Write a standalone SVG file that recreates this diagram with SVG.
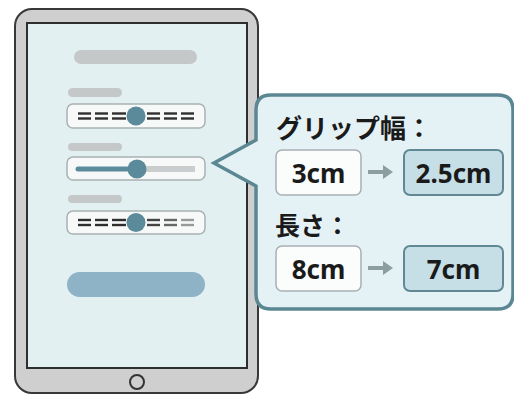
<svg xmlns="http://www.w3.org/2000/svg" width="514" height="396" viewBox="0 0 514 396">
<defs>
<style>
.bar{fill:#c5c8c9}
.sbox{fill:#f7f9f9;stroke:#a9b1b3;stroke-width:1.5}
.dash{stroke:#2e2e2e;stroke-width:2.4}
.thumb{fill:#5b8a9b}
.jp{font-family:"Noto Sans CJK JP","Noto Sans",sans-serif;font-weight:bold;fill:#1a1a1a}
.num{font-family:"Noto Sans","Noto Sans CJK JP",sans-serif;font-weight:bold;fill:#1a1a1a;font-size:26px;text-anchor:middle}
.vbox{fill:#fbfcfc;stroke:#a8b0b2;stroke-width:1.5}
.nbox{fill:#c6dfe7;stroke:#5f8894;stroke-width:2}
.arr{stroke:#8d9ea3;stroke-width:4;fill:none}
</style>
<g id="dashset">
<g class="dash">
<line x1="78" y1="-2.5" x2="91" y2="-2.5"/><line x1="78" y1="2.5" x2="91" y2="2.5"/>
<line x1="95" y1="-2.5" x2="108" y2="-2.5"/><line x1="95" y1="2.5" x2="108" y2="2.5"/>
<line x1="112" y1="-2.5" x2="126" y2="-2.5"/><line x1="112" y1="2.5" x2="126" y2="2.5"/>
</g>
</g>
</defs>

<g id="tablet">
<rect x="15" y="9" width="243" height="384" rx="17" fill="#cfcfcf" stroke="#383838" stroke-width="2"/>
<rect x="27" y="23" width="220" height="345" fill="#e3f0f2" stroke="#2e2e2e" stroke-width="2"/>
<circle cx="137" cy="382" r="7" fill="none" stroke="#333" stroke-width="2"/>
</g>

<g id="header">
<rect class="bar" x="74" y="50" width="123" height="14" rx="7"/>
</g>

<g id="slider1">
<rect class="bar" x="68" y="88" width="54" height="9" rx="4.5"/>
<rect class="sbox" x="67" y="104" width="138" height="24" rx="6"/>
<use href="#dashset" y="116"/>
<g class="dash">
<line x1="147" y1="113.5" x2="160" y2="113.5"/><line x1="147" y1="118.5" x2="160" y2="118.5"/>
<line x1="164" y1="113.5" x2="177" y2="113.5"/><line x1="164" y1="118.5" x2="177" y2="118.5"/>
<line x1="181" y1="113.5" x2="194" y2="113.5"/><line x1="181" y1="118.5" x2="194" y2="118.5"/>
</g>
<circle class="thumb" cx="136" cy="116" r="9.5"/>
</g>

<g id="slider2">
<rect class="bar" x="68" y="143" width="54" height="8" rx="4"/>
<rect class="sbox" x="67" y="157" width="138" height="23" rx="6"/>
<line x1="78" y1="169" x2="136" y2="169" stroke="#5b8a9b" stroke-width="5" stroke-linecap="round"/>
<line x1="136" y1="169" x2="195" y2="169" stroke="#c9cdce" stroke-width="6"/>
<circle class="thumb" cx="137" cy="169" r="9.5"/>
</g>

<g id="slider3">
<rect class="bar" x="68" y="195" width="54" height="8" rx="4"/>
<rect class="sbox" x="67" y="211" width="138" height="23" rx="6"/>
<use href="#dashset" y="222.5"/>
<g stroke-width="2.4">
<line x1="147" y1="220" x2="160" y2="220" stroke="#444"/><line x1="147" y1="225" x2="160" y2="225" stroke="#444"/>
<line x1="164" y1="220" x2="177" y2="220" stroke="#666"/><line x1="164" y1="225" x2="177" y2="225" stroke="#666"/>
<line x1="181" y1="220" x2="194" y2="220" stroke="#999"/><line x1="181" y1="225" x2="194" y2="225" stroke="#999"/>
</g>
<circle class="thumb" cx="136" cy="222.5" r="9.5"/>
</g>

<g id="button">
<rect x="67" y="272" width="138" height="25" rx="12.5" fill="#8fb3c6"/>
</g>

<g id="callout">
<path d="M 271 95 H 498 Q 513 95 513 110 V 294 Q 513 309 498 309 H 271 Q 256 309 256 294 V 186 L 214 163 L 256 140 V 110 Q 256 95 271 95 Z" fill="#e5f2f5" stroke="#5b8793" stroke-width="3.5" stroke-linejoin="miter"/>
<text class="jp" x="276" y="138" font-size="26">グリップ幅：</text>
<text class="jp" x="275" y="235" font-size="25">長さ：</text>
</g>

<g id="v3cm">
<rect class="vbox" x="276" y="150" width="85" height="45" rx="6"/>
<text class="num" x="318.5" y="183">3cm</text>
</g>
<g id="v25cm">
<rect class="nbox" x="404" y="150" width="99" height="45" rx="6"/>
<text class="num" x="453.5" y="183">2.5cm</text>
</g>
<g id="v8cm">
<rect class="vbox" x="276" y="246" width="85" height="45" rx="6"/>
<text class="num" x="318.5" y="279">8cm</text>
</g>
<g id="v7cm">
<rect class="nbox" x="404" y="246" width="99" height="45" rx="6"/>
<text class="num" x="453.5" y="279">7cm</text>
</g>

<g id="connectors">
<path class="arr" d="M 368 172 H 388"/>
<path d="M 383 165 L 393 172 L 383 179 Z" fill="#8d9ea3"/>
<path class="arr" d="M 368 268 H 388"/>
<path d="M 383 261 L 393 268 L 383 275 Z" fill="#8d9ea3"/>
</g>
</svg>
